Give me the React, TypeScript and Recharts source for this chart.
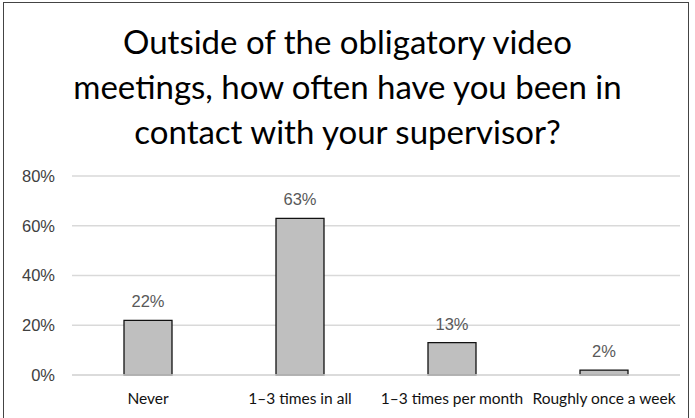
import React from "react";
import { BarChart, Bar, XAxis, YAxis, CartesianGrid, LabelList } from "recharts";

const categories = ["Never", "1–3 times in all", "1–3 times per month", "Roughly once a week"];
const shares = [22, 63, 13, 2];
const yTicks = [0, 20, 40, 60, 80];
const titleLines = [
  "Outside of the obligatory video",
  "meetings, how often have you been in",
  "contact with your supervisor?",
];

const data = categories.map((c, i) => ({ name: c, value: shares[i] }));

export default function App() {
  return (
    <div
      style={{
        position: "absolute",
        left: 0,
        top: 0,
        width: 695,
        height: 418,
        background: "#fff",
        overflow: "hidden",
      }}
    >
      <div
        style={{
          position: "absolute",
          left: 3,
          top: 2,
          width: 686,
          height: 430,
          border: "1px solid #444",
          boxSizing: "border-box",
        }}
      />
      <div
        style={{
          position: "absolute",
          left: 0,
          top: 19,
          width: 695,
          textAlign: "center",
          fontFamily: "Lato, 'Open Sans', sans-serif",
          fontSize: 33,
          lineHeight: "45px",
          color: "#000",
        }}
      >
        {titleLines.map((l) => (
          <div key={l}>{l}</div>
        ))}
      </div>
      <div style={{ position: "absolute", left: 0, top: 0 }}>
        <BarChart
          width={695}
          height={418}
          data={data}
          margin={{ top: 176, right: 15, bottom: 13, left: 0 }}
        >
          <CartesianGrid vertical={false} stroke="#d9d9d9" strokeWidth={1.3} />
          <XAxis
            dataKey="name"
            interval={0}
            axisLine={{ stroke: "#d9d9d9", strokeWidth: 1.3 }}
            tickLine={false}
            tickMargin={12}
            tick={{ fill: "#111", fontSize: 15.5, fontFamily: "Lato, sans-serif" }}
          />
          <YAxis
            domain={[0, 80]}
            ticks={yTicks}
            width={72}
            axisLine={false}
            tickLine={false}
            tickMargin={11}
            tickFormatter={(v) => `${v}%`}
            tick={{ fill: "#404040", fontSize: 16.5, fontFamily: "'Liberation Sans', Arial, sans-serif" }}
          />
          <Bar
            dataKey="value"
            fill="#bfbfbf"
            stroke="#111"
            strokeWidth={1.3}
            barSize={48}
            isAnimationActive={false}
          >
            <LabelList
              dataKey="value"
              position="top"
              offset={13}
              formatter={(v: any) => `${v}%`}
              style={{ fill: "#595959", fontSize: 16.5, fontFamily: "'Liberation Sans', Arial, sans-serif" }}
            />
          </Bar>
        </BarChart>
      </div>
    </div>
  );
}
